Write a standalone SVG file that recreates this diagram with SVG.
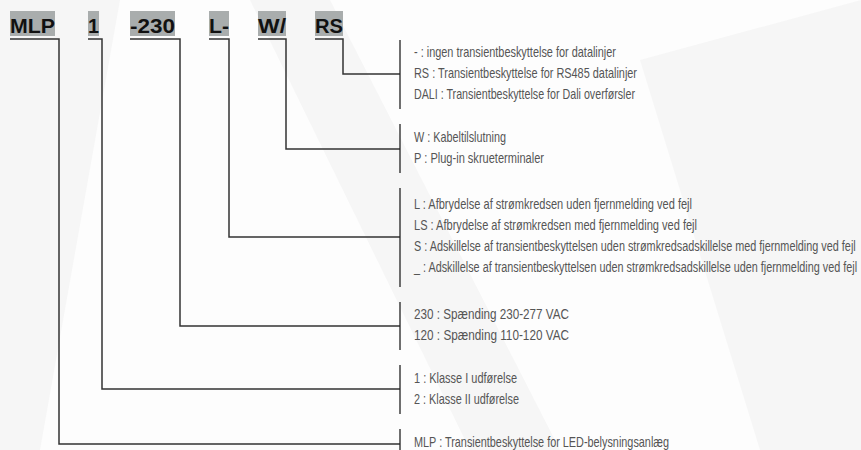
<svg xmlns="http://www.w3.org/2000/svg" width="861" height="450" viewBox="0 0 861 450">
<style>
.code{font-family:"Liberation Sans",Arial,sans-serif;font-weight:bold;font-size:21px;fill:#111}
.box{fill:#a9adad}
.desc{font-family:"Liberation Sans",Arial,sans-serif;font-size:15px;fill:#555}
.br{stroke:#222;stroke-width:1.3;fill:none}
.ln{stroke:#333;stroke-width:1.5;fill:none}
</style>
<rect width="861" height="450" fill="#fdfdfd"/>
<g id="bg" fill="#f6f6f6">
<polygon points="0,0 120,0 40,450 0,450"/>
<polygon points="250,0 330,0 560,450 470,450"/>
<polygon points="640,60 861,0 861,450 760,450"/>
</g>
<g id="codes">
<g id="code-mlp"><rect class="box" x="10" y="11" width="45" height="25"/><text class="code" x="10" y="33" textLength="45" lengthAdjust="spacingAndGlyphs">MLP</text></g>
<g id="code-1"><rect class="box" x="88" y="11" width="11" height="25"/><text class="code" x="88" y="33" textLength="11" lengthAdjust="spacingAndGlyphs">1</text></g>
<g id="code-230"><rect class="box" x="130" y="11" width="45" height="25"/><text class="code" x="130" y="33" textLength="45" lengthAdjust="spacingAndGlyphs">-230</text></g>
<g id="code-l"><rect class="box" x="209" y="11" width="20" height="25"/><text class="code" x="209" y="33" textLength="20" lengthAdjust="spacingAndGlyphs">L-</text></g>
<g id="code-w"><rect class="box" x="258" y="11" width="28" height="25"/><text class="code" x="258" y="33" textLength="28" lengthAdjust="spacingAndGlyphs">W/</text></g>
<g id="code-rs"><rect class="box" x="315" y="11" width="28" height="25"/><text class="code" x="315" y="33" textLength="28" lengthAdjust="spacingAndGlyphs">RS</text></g>
</g>
<g id="connectors">
<path class="ln" d="M10,39 H59 V444 H400"/>
<path class="ln" d="M88,39 H102 V389 H400"/>
<path class="ln" d="M130,39 H180 V326 H400"/>
<path class="ln" d="M209,39 H229 V237 H400"/>
<path class="ln" d="M258,39 H286 V149 H400"/>
<path class="ln" d="M315,39 H343 V74 H400"/>
</g>
<g id="opt-rs">
<line class="br" x1="400" y1="40" x2="400" y2="109"/>
<text class="desc" x="414" y="57" textLength="202" lengthAdjust="spacingAndGlyphs">- : ingen transientbeskyttelse for datalinjer</text>
<text class="desc" x="414" y="78" textLength="223" lengthAdjust="spacingAndGlyphs">RS : Transientbeskyttelse for RS485 datalinjer</text>
<text class="desc" x="414" y="99" textLength="221" lengthAdjust="spacingAndGlyphs">DALI : Transientbeskyttelse for Dali overførsler</text>
</g>
<g id="opt-w">
<line class="br" x1="400" y1="124" x2="400" y2="173"/>
<text class="desc" x="414" y="142" textLength="92" lengthAdjust="spacingAndGlyphs">W : Kabeltilslutning</text>
<text class="desc" x="414" y="163" textLength="130" lengthAdjust="spacingAndGlyphs">P : Plug-in skrueterminaler</text>
</g>
<g id="opt-l">
<line class="br" x1="400" y1="188" x2="400" y2="287"/>
<text class="desc" x="414" y="209" textLength="278" lengthAdjust="spacingAndGlyphs">L : Afbrydelse af strømkredsen uden fjernmelding ved fejl</text>
<text class="desc" x="414" y="230" textLength="283" lengthAdjust="spacingAndGlyphs">LS : Afbrydelse af strømkredsen med fjernmelding ved fejl</text>
<g transform="translate(414,0) scale(0.7,1)">
<text class="desc" x="0" y="251" textLength="631" lengthAdjust="spacingAndGlyphs">S : Adskillelse af transientbeskyttelsen uden strømkredsadskillelse med fjernmelding ved fejl</text>
<text class="desc" x="0" y="272" textLength="633" lengthAdjust="spacingAndGlyphs">_ : Adskillelse af transientbeskyttelsen uden strømkredsadskillelse uden fjernmelding ved fejl</text>
</g>
</g>
<g id="opt-230">
<line class="br" x1="400" y1="302" x2="400" y2="350"/>
<text class="desc" x="414" y="319" textLength="155" lengthAdjust="spacingAndGlyphs">230 : Spænding 230-277 VAC</text>
<text class="desc" x="414" y="340" textLength="155" lengthAdjust="spacingAndGlyphs">120 : Spænding 110-120 VAC</text>
</g>
<g id="opt-1">
<line class="br" x1="400" y1="365" x2="400" y2="414"/>
<text class="desc" x="414" y="383" textLength="103" lengthAdjust="spacingAndGlyphs">1 : Klasse I udførelse</text>
<text class="desc" x="414" y="404" textLength="105" lengthAdjust="spacingAndGlyphs">2 : Klasse II udførelse</text>
</g>
<g id="opt-mlp">
<line class="br" x1="400" y1="429" x2="400" y2="450"/>
<text class="desc" x="414" y="447" textLength="255" lengthAdjust="spacingAndGlyphs">MLP : Transientbeskyttelse for LED-belysningsanlæg</text>
</g>
</svg>
